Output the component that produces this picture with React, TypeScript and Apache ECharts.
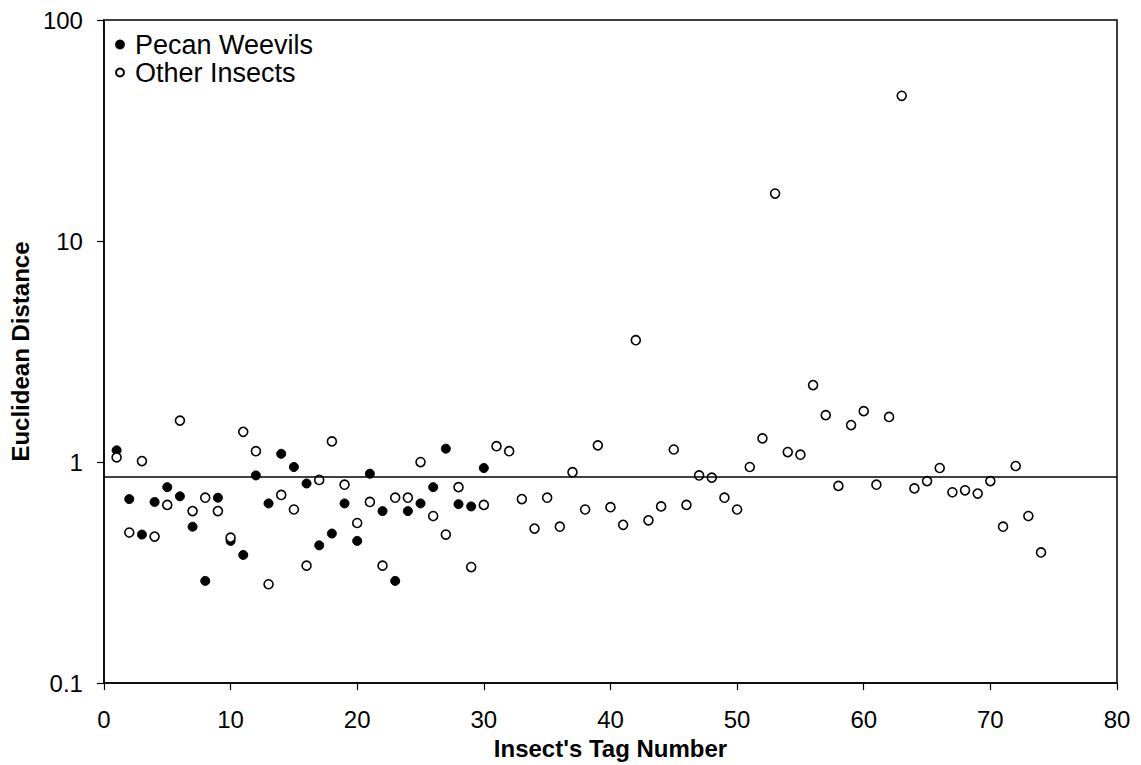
import React, { useEffect, useRef } from "react";
import * as echarts from "echarts";

const xTicks = [0, 10, 20, 30, 40, 50, 60, 70, 80];
const yTickLabels = ["0.1", "1", "10", "100"];

const pecanTags = [1, 2, 3, 4, 5, 6, 7, 8, 9, 10, 11, 12, 13, 14, 15, 16, 17, 18, 19, 20, 21, 22, 23, 24, 25, 26, 27, 28, 29, 30];
const pecanDist = [1.13, 0.68, 0.47, 0.66, 0.77, 0.70, 0.51, 0.29, 0.69, 0.44, 0.38, 0.87, 0.65, 1.09, 0.95, 0.80, 0.42, 0.475, 0.65, 0.44, 0.886, 0.60, 0.29, 0.60, 0.65, 0.77, 1.15, 0.645, 0.63, 0.94];

const otherTags = [
  1, 2, 3, 4, 5, 6, 7, 8, 9, 10, 11, 12, 13, 14, 15, 16, 17, 18, 19, 20, 21, 22, 23, 24, 25,
  26, 27, 28, 29, 30, 31, 32, 33, 34, 35, 36, 37, 38, 39, 40, 41, 42, 43, 44, 45, 46, 47, 48, 49, 50,
  51, 52, 53, 54, 55, 56, 57, 58, 59, 60, 61, 62, 63, 64, 65, 66, 67, 68, 69, 70, 71, 72, 73, 74,
];
const otherDist = [
  1.05, 0.48, 1.01, 0.46, 0.64, 1.54, 0.60, 0.69, 0.60, 0.455, 1.37, 1.12, 0.28, 0.71, 0.61, 0.34, 0.83, 1.24, 0.79, 0.53, 0.66, 0.34, 0.69, 0.69, 1.00,
  0.57, 0.47, 0.77, 0.335, 0.64, 1.18, 1.12, 0.68, 0.50, 0.69, 0.51, 0.90, 0.61, 1.19, 0.625, 0.52, 3.56, 0.545, 0.63, 1.14, 0.64, 0.87, 0.85, 0.69, 0.61,
  0.95, 1.28, 16.4, 1.11, 1.08, 2.23, 1.63, 0.78, 1.47, 1.70, 0.79, 1.60, 45.4, 0.76, 0.82, 0.94, 0.73, 0.745, 0.72, 0.82, 0.51, 0.96, 0.57, 0.39,
];

const referenceLevel = 0.86;

const FONT = "'Liberation Sans', Arial, sans-serif";

export default function App() {
  const ref = useRef<HTMLDivElement>(null);
  useEffect(() => {
    if (!ref.current) return;
    const chart = echarts.init(ref.current, null, { renderer: "svg" });
    chart.setOption({
      animation: false,
      backgroundColor: "#fff",
      textStyle: { fontFamily: FONT, color: "#000" },
      grid: {
        left: 98,
        right: 24,
        top: 20,
        bottom: 80,
        show: true,
        borderColor: "#000",
        borderWidth: 1.5,
        backgroundColor: "transparent",
      },
      legend: {
        orient: "vertical",
        left: 115,
        top: 31,
        padding: 0,
        itemWidth: 8,
        itemHeight: 8,
        itemGap: 1,
        icon: "circle",
        textStyle: { fontSize: 27, color: "#000", fontFamily: FONT, padding: [0, 0, 0, 6] },
        data: ["Pecan Weevils", "Other Insects"],
      },
      xAxis: {
        type: "value",
        min: xTicks[0],
        max: xTicks[xTicks.length - 1],
        interval: 10,
        name: "Insect's Tag Number",
        nameLocation: "middle",
        nameGap: 48,
        nameTextStyle: { fontSize: 24, fontWeight: "bold", color: "#000", fontFamily: FONT },
        axisLine: { show: true, lineStyle: { color: "#000", width: 1.5 } },
        axisTick: { show: true, inside: false, length: 7, lineStyle: { color: "#000", width: 1.2 } },
        axisLabel: { fontSize: 24, color: "#000", margin: 24, fontFamily: FONT },
        splitLine: { show: false },
      },
      yAxis: {
        type: "log",
        logBase: 10,
        min: 0.1,
        max: 100,
        name: "Euclidean Distance",
        nameLocation: "middle",
        nameGap: 57,
        nameRotate: 90,
        nameTextStyle: { fontSize: 24, fontWeight: "bold", color: "#000", fontFamily: FONT },
        axisLine: { show: true, lineStyle: { color: "#000", width: 1.5 } },
        axisTick: { show: true, inside: false, length: 7, lineStyle: { color: "#000", width: 1.2 } },
        axisLabel: {
          fontSize: 24,
          color: "#000",
          margin: 21,
          fontFamily: FONT,
          formatter: (v: number) => {
            const e = Math.round(Math.log10(v));
            return yTickLabels[e + 1] ?? String(v);
          },
        },
        splitLine: { show: false },
        minorTick: { show: false },
      },
      series: [
        {
          name: "Pecan Weevils",
          type: "scatter",
          symbol: "circle",
          symbolSize: 9,
          itemStyle: { color: "#000", borderColor: "#000", borderWidth: 1, opacity: 1 },
          data: pecanTags.map((t, i) => [t, pecanDist[i]]),
          z: 2,
          markLine: {
            silent: true,
            symbol: "none",
            label: { show: false },
            lineStyle: { color: "#000", width: 1.5, type: "solid" },
            data: [{ yAxis: referenceLevel }],
          },
        },
        {
          name: "Other Insects",
          type: "scatter",
          symbol: "circle",
          symbolSize: 9,
          itemStyle: { color: "#fff", borderColor: "#000", borderWidth: 1.6, opacity: 1 },
          data: otherTags.map((t, i) => [t, otherDist[i]]),
          z: 3,
        },
      ],
    });
    return () => chart.dispose();
  }, []);
  return (
    <div
      ref={ref}
      style={{ position: "absolute", left: 0, top: 0, width: 1141, height: 765 }}
    />
  );
}
